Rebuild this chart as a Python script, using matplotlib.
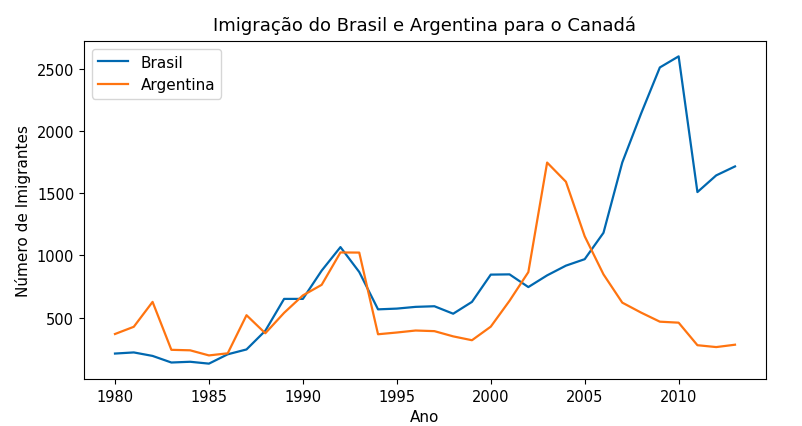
import matplotlib
matplotlib.use('Agg')
import matplotlib.pyplot as plt

anos = list(range(1980, 2014))
brasil = [211, 220, 192, 139, 145, 130, 205, 244, 394, 650, 650, 877, 1066, 866,
          566, 572, 586, 591, 531, 626, 845, 847, 745, 839, 917, 969, 1181, 1746,
          2138, 2509, 2598, 1508, 1642, 1714]
argentina = [368, 426, 626, 241, 237, 196, 213, 519, 374, 538, 678, 763, 1023, 1022,
             366, 380, 396, 391, 349, 318, 427, 635, 865, 1745, 1591, 1153, 847, 620,
             540, 467, 459, 278, 263, 282]

plt.rcParams['font.size'] = 11
plt.rcParams['xtick.labelsize'] = 10.5
plt.rcParams['ytick.labelsize'] = 10.5

fig = plt.figure(figsize=(8.03, 4.27), dpi=100)
ax = fig.add_axes([84 / 803, 47 / 427, 682 / 803, 338 / 427])
ax.plot(anos, brasil, color='#0068B0', linewidth=1.6, label='Brasil')
ax.plot(anos, argentina, color='#FF7410', linewidth=1.6, label='Argentina')
ax.set_title('Imigração do Brasil e Argentina para o Canadá', fontsize=13, pad=8)
ax.set_xlabel('Ano')
ax.set_ylabel('Número de Imigrantes')
ax.set_yticks([500, 1000, 1500, 2000, 2500])
ax.legend(loc='upper left')
fig.savefig('out.png', dpi=100)
